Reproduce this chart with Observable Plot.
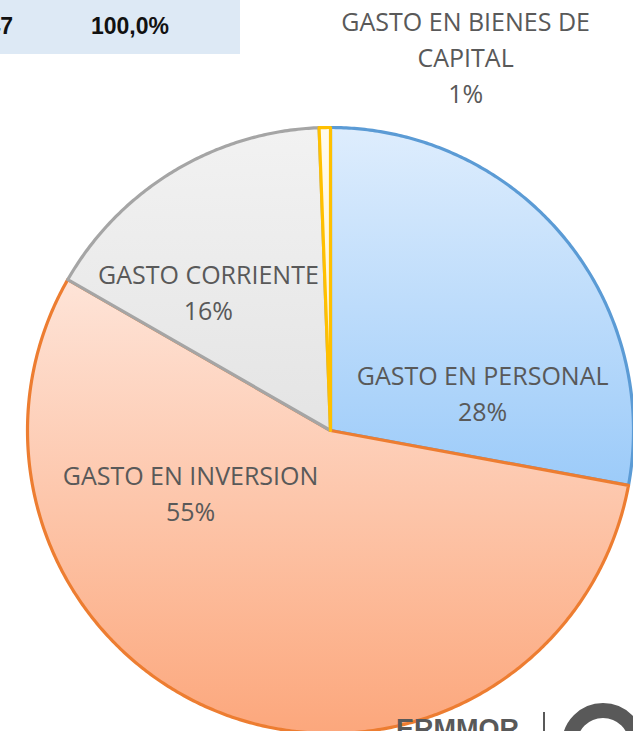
<!DOCTYPE html>
<html><head><meta charset="utf-8">
<script src="https://cdn.jsdelivr.net/npm/d3@7"></script>
<script src="https://cdn.jsdelivr.net/npm/@observablehq/plot@0.6"></script>
<style>
body{margin:0;background:#fff;}
#wrap{position:relative;width:633px;height:731px;overflow:hidden;}
#wrap svg{position:absolute;left:0;top:0;}
.tbl{position:absolute;left:0;top:0;width:240px;height:54px;background:#dde9f5;font-family:"Liberation Sans",Arial,sans-serif;font-weight:bold;font-size:23px;color:#111;}
.tbl .a{position:absolute;right:227px;top:13px;}
.tbl .b{position:absolute;left:91px;top:13px;}
.logo{position:absolute;left:396px;top:714px;font-family:"Liberation Sans",Arial,sans-serif;font-weight:bold;font-size:27px;color:#595959;}
.bar{position:absolute;left:543px;top:712px;width:2px;height:22px;background:#595959;}
.ring{position:absolute;left:562px;top:703px;width:52px;height:52px;border:15px solid #595959;border-radius:50%;}
</style></head><body><div id="wrap"></div>
<script>
const categories = ["GASTO EN PERSONAL","GASTO EN INVERSION","GASTO CORRIENTE","GASTO EN BIENES DE CAPITAL"];
const shares = [27.9, 55.4, 16.1, 0.6];
const labelLines = [["GASTO EN PERSONAL"],["GASTO EN INVERSION"],["GASTO CORRIENTE"],["GASTO EN BIENES DE","CAPITAL"]];
const labelX = [0.502, -0.462, -0.403, 0.446];
const labelY = [0.128, -0.202, 0.462, 1.238];
const strokes = ["#5b9bd5","#ed7d31","#a5a5a5","#ffc000"];
const gradTop = ["#deedfd","#fee4d8","#f2f2f2","#fffbee"];
const gradBottom = ["#9ccbf9","#fca77c","#e4e4e4","#fff3cc"];

const total = d3.sum(shares);
const pts = [];
let acc = 0;
shares.forEach((v, i) => {
  const a0 = acc / total * 2 * Math.PI;
  acc += v;
  const a1 = acc / total * 2 * Math.PI;
  const n = Math.max(2, Math.ceil((a1 - a0) / (Math.PI / 360)));
  pts.push({s: i, x: 0, y: 0});
  for (let k = 0; k <= n; k++) {
    const a = a0 + (a1 - a0) * k / n;
    pts.push({s: i, x: Math.sin(a), y: Math.cos(a)});
  }
});
const labels = categories.map((c, i) => ({
  x: labelX[i], y: labelY[i],
  text: labelLines[i].join("\n") + "\n" + Math.round(shares[i]) + "%"
}));

const R = 303, cx = 330, cy = 430, W = 633, H = 731;
const chart = Plot.plot({
  width: W, height: H, margin: 0,
  x: {domain: [-cx / R, (W - cx) / R], axis: null},
  y: {domain: [-(H - cy) / R, cy / R], axis: null},
  style: {background: "transparent", overflow: "visible"},
  marks: [
    ...shares.map((v, i) => Plot.line(pts.filter(d => d.s === i), {
      x: "x", y: "y", curve: "linear-closed",
      fill: `url(#pg${i})`, stroke: strokes[i], strokeWidth: 3.2, strokeLinejoin: "round"
    })),
    Plot.text(labels, {x: "x", y: "y", text: "text", fill: "#595959", fontSize: 25,
      fontFamily: "'Open Sans', sans-serif", lineHeight: 1.45, textAnchor: "middle"})
  ]
});
const ns = "http://www.w3.org/2000/svg";
const defs = document.createElementNS(ns, "defs");
shares.forEach((v, i) => {
  const g = document.createElementNS(ns, "linearGradient");
  g.setAttribute("id", `pg${i}`);
  g.setAttribute("x1", "0"); g.setAttribute("y1", "0");
  g.setAttribute("x2", "0"); g.setAttribute("y2", "1");
  [[0, gradTop[i]], [1, gradBottom[i]]].forEach(([o, c]) => {
    const st = document.createElementNS(ns, "stop");
    st.setAttribute("offset", o); st.setAttribute("stop-color", c);
    g.appendChild(st);
  });
  defs.appendChild(g);
});
chart.insertBefore(defs, chart.firstChild);

const wrap = document.getElementById("wrap");
wrap.innerHTML = '<div class="tbl"><span class="a">47</span><span class="b">100,0%</span></div>';
wrap.appendChild(chart);
wrap.insertAdjacentHTML("beforeend", '<div class="logo">ERMMOR</div><div class="bar"></div><div class="ring"></div>');
</script></body></html>
